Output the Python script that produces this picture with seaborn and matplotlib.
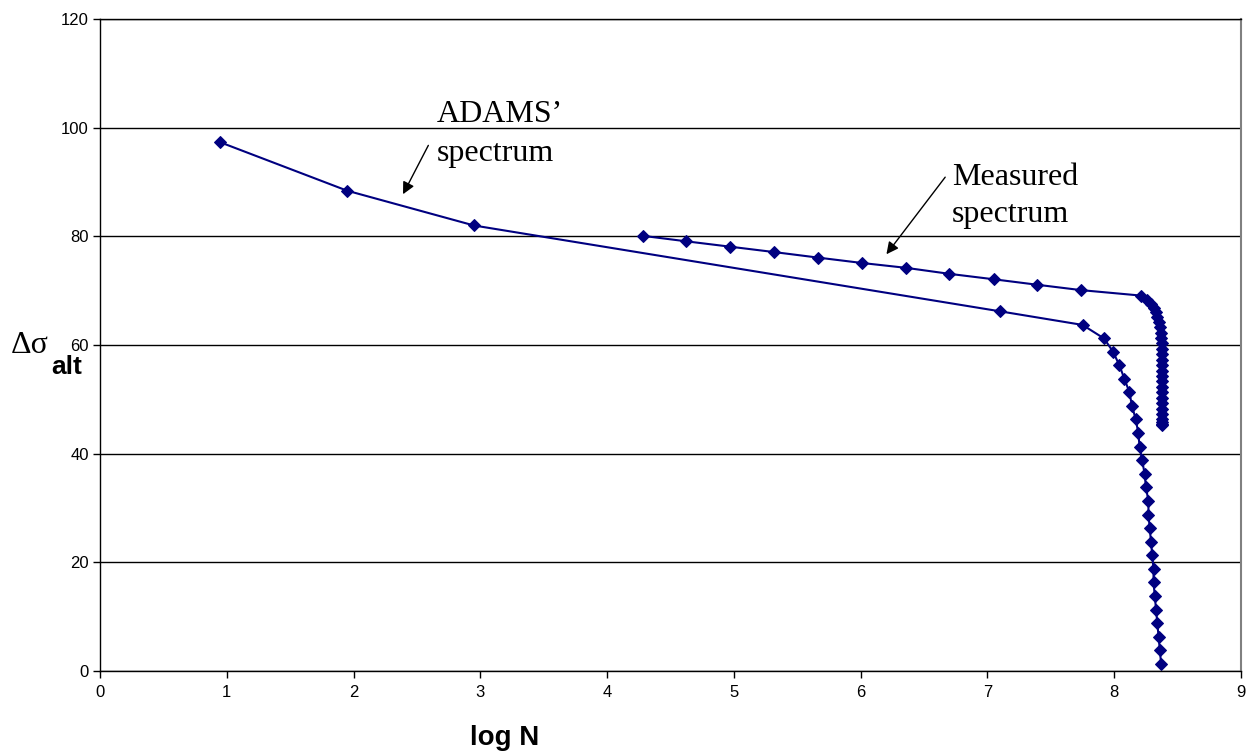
import matplotlib
matplotlib.use("Agg")
import matplotlib.pyplot as plt
import seaborn as sns
import pandas as pd

# ADAMS' spectrum
adams_logN = [0.95, 1.95, 2.95, 7.10, 7.75, 7.92, 7.99, 8.04, 8.08, 8.12, 8.14, 8.17,
              8.19, 8.20, 8.22, 8.24, 8.25, 8.27, 8.27, 8.28, 8.29, 8.30, 8.31, 8.31,
              8.32, 8.33, 8.34, 8.35, 8.36, 8.37]
adams_ds = [97.3, 88.4, 82.0, 66.2, 63.7, 61.2, 58.8, 56.3, 53.8, 51.3, 48.8, 46.3,
            43.8, 41.3, 38.8, 36.3, 33.8, 31.3, 28.8, 26.3, 23.8, 21.3, 18.8, 16.3,
            13.8, 11.3, 8.8, 6.3, 3.8, 1.3]

# Measured spectrum
meas_logN = [4.28, 4.62, 4.97, 5.32, 5.66, 6.01, 6.36, 6.70, 7.05, 7.39, 7.74, 8.21,
             8.26, 8.29, 8.31, 8.33, 8.34, 8.35, 8.36, 8.37, 8.37, 8.38, 8.38, 8.38,
             8.38, 8.38, 8.38, 8.38, 8.38, 8.38, 8.38, 8.38, 8.38, 8.38, 8.38, 8.38,
             8.38, 8.38, 8.38]
meas_ds = [80.1, 79.1, 78.1, 77.1, 76.1, 75.1, 74.2, 73.1, 72.1, 71.1, 70.1, 69.1,
           68.3, 67.6, 66.8, 66.0, 65.1, 64.2, 63.3, 62.3, 61.3, 60.3, 59.3, 58.3,
           57.3, 56.3, 55.3, 54.3, 53.3, 52.3, 51.3, 50.3, 49.3, 48.3, 47.3, 46.3,
           45.8, 45.5, 45.3]

x_ticks = list(range(0, 10))
y_ticks = list(range(0, 121, 20))

sns.set_theme(style="white")
plt.rcParams['font.family'] = ['Liberation Sans', 'DejaVu Sans']
plt.rcParams['text.color'] = 'black'
plt.rcParams['xtick.color'] = 'black'
plt.rcParams['ytick.color'] = 'black'
plt.rcParams['axes.labelcolor'] = 'black'

fig = plt.figure(figsize=(12.5, 7.52), dpi=100)
ax = fig.add_axes([0.08, 0.1077, 0.9128, 0.867])

df_a = pd.DataFrame({"x": adams_logN, "y": adams_ds})
df_m = pd.DataFrame({"x": meas_logN, "y": meas_ds})
color = "#000080"
for df in (df_a, df_m):
    sns.lineplot(data=df, x="x", y="y", sort=False, estimator=None, ax=ax,
                 color=color, linewidth=1.5, marker="D", markersize=6,
                 markeredgecolor=color, markerfacecolor=color)

ax.set_xlim(0, 9)
ax.set_ylim(0, 120)
ax.set_xticks(x_ticks)
ax.set_yticks(y_ticks)
ax.tick_params(axis="both", direction="out", length=5, width=1, colors="black",
               labelsize=12, bottom=True, left=True)
ax.tick_params(axis="y", pad=3)
ax.tick_params(axis="x", pad=5)
ax.yaxis.grid(True, color="black", linewidth=1)
ax.xaxis.grid(False)
ax.set_axisbelow(True)
for s in ("left", "bottom", "top"):
    ax.spines[s].set_color("black")
    ax.spines[s].set_linewidth(1)
ax.spines["right"].set_color("#808080")
ax.spines["right"].set_linewidth(1.5)

ax.set_xlabel("")
ax.set_ylabel("")
fig.text(0.404, 0.019, "log N", fontsize=20, fontweight="bold", ha="center", va="center")
fig.text(0.009, 0.541, "Δσ", fontsize=23, family=["Liberation Serif", "DejaVu Serif"],
         ha="left", va="center")
fig.text(0.041, 0.503, "alt", fontsize=19, fontweight="bold", ha="left", va="baseline")

serif = ["Liberation Serif", "DejaVu Serif"]
ax.text(2.66, 101.05, "ADAMS’", fontsize=23, family=serif, ha="left", va="baseline")
ax.text(2.66, 93.9, "spectrum", fontsize=23, family=serif, ha="left", va="baseline")
ax.annotate("", xy=(2.38, 87.3), xytext=(2.60, 97.2),
            arrowprops=dict(arrowstyle="-|>", color="black", lw=1, mutation_scale=18))
ax.text(6.72, 89.4, "Measured", fontsize=23, family=serif, ha="left", va="baseline")
ax.text(6.72, 82.6, "spectrum", fontsize=23, family=serif, ha="left", va="baseline")
ax.annotate("", xy=(6.19, 76.3), xytext=(6.68, 91.3),
            arrowprops=dict(arrowstyle="-|>", color="black", lw=1, mutation_scale=18))

fig.savefig("out.png", dpi=100, facecolor="white")
